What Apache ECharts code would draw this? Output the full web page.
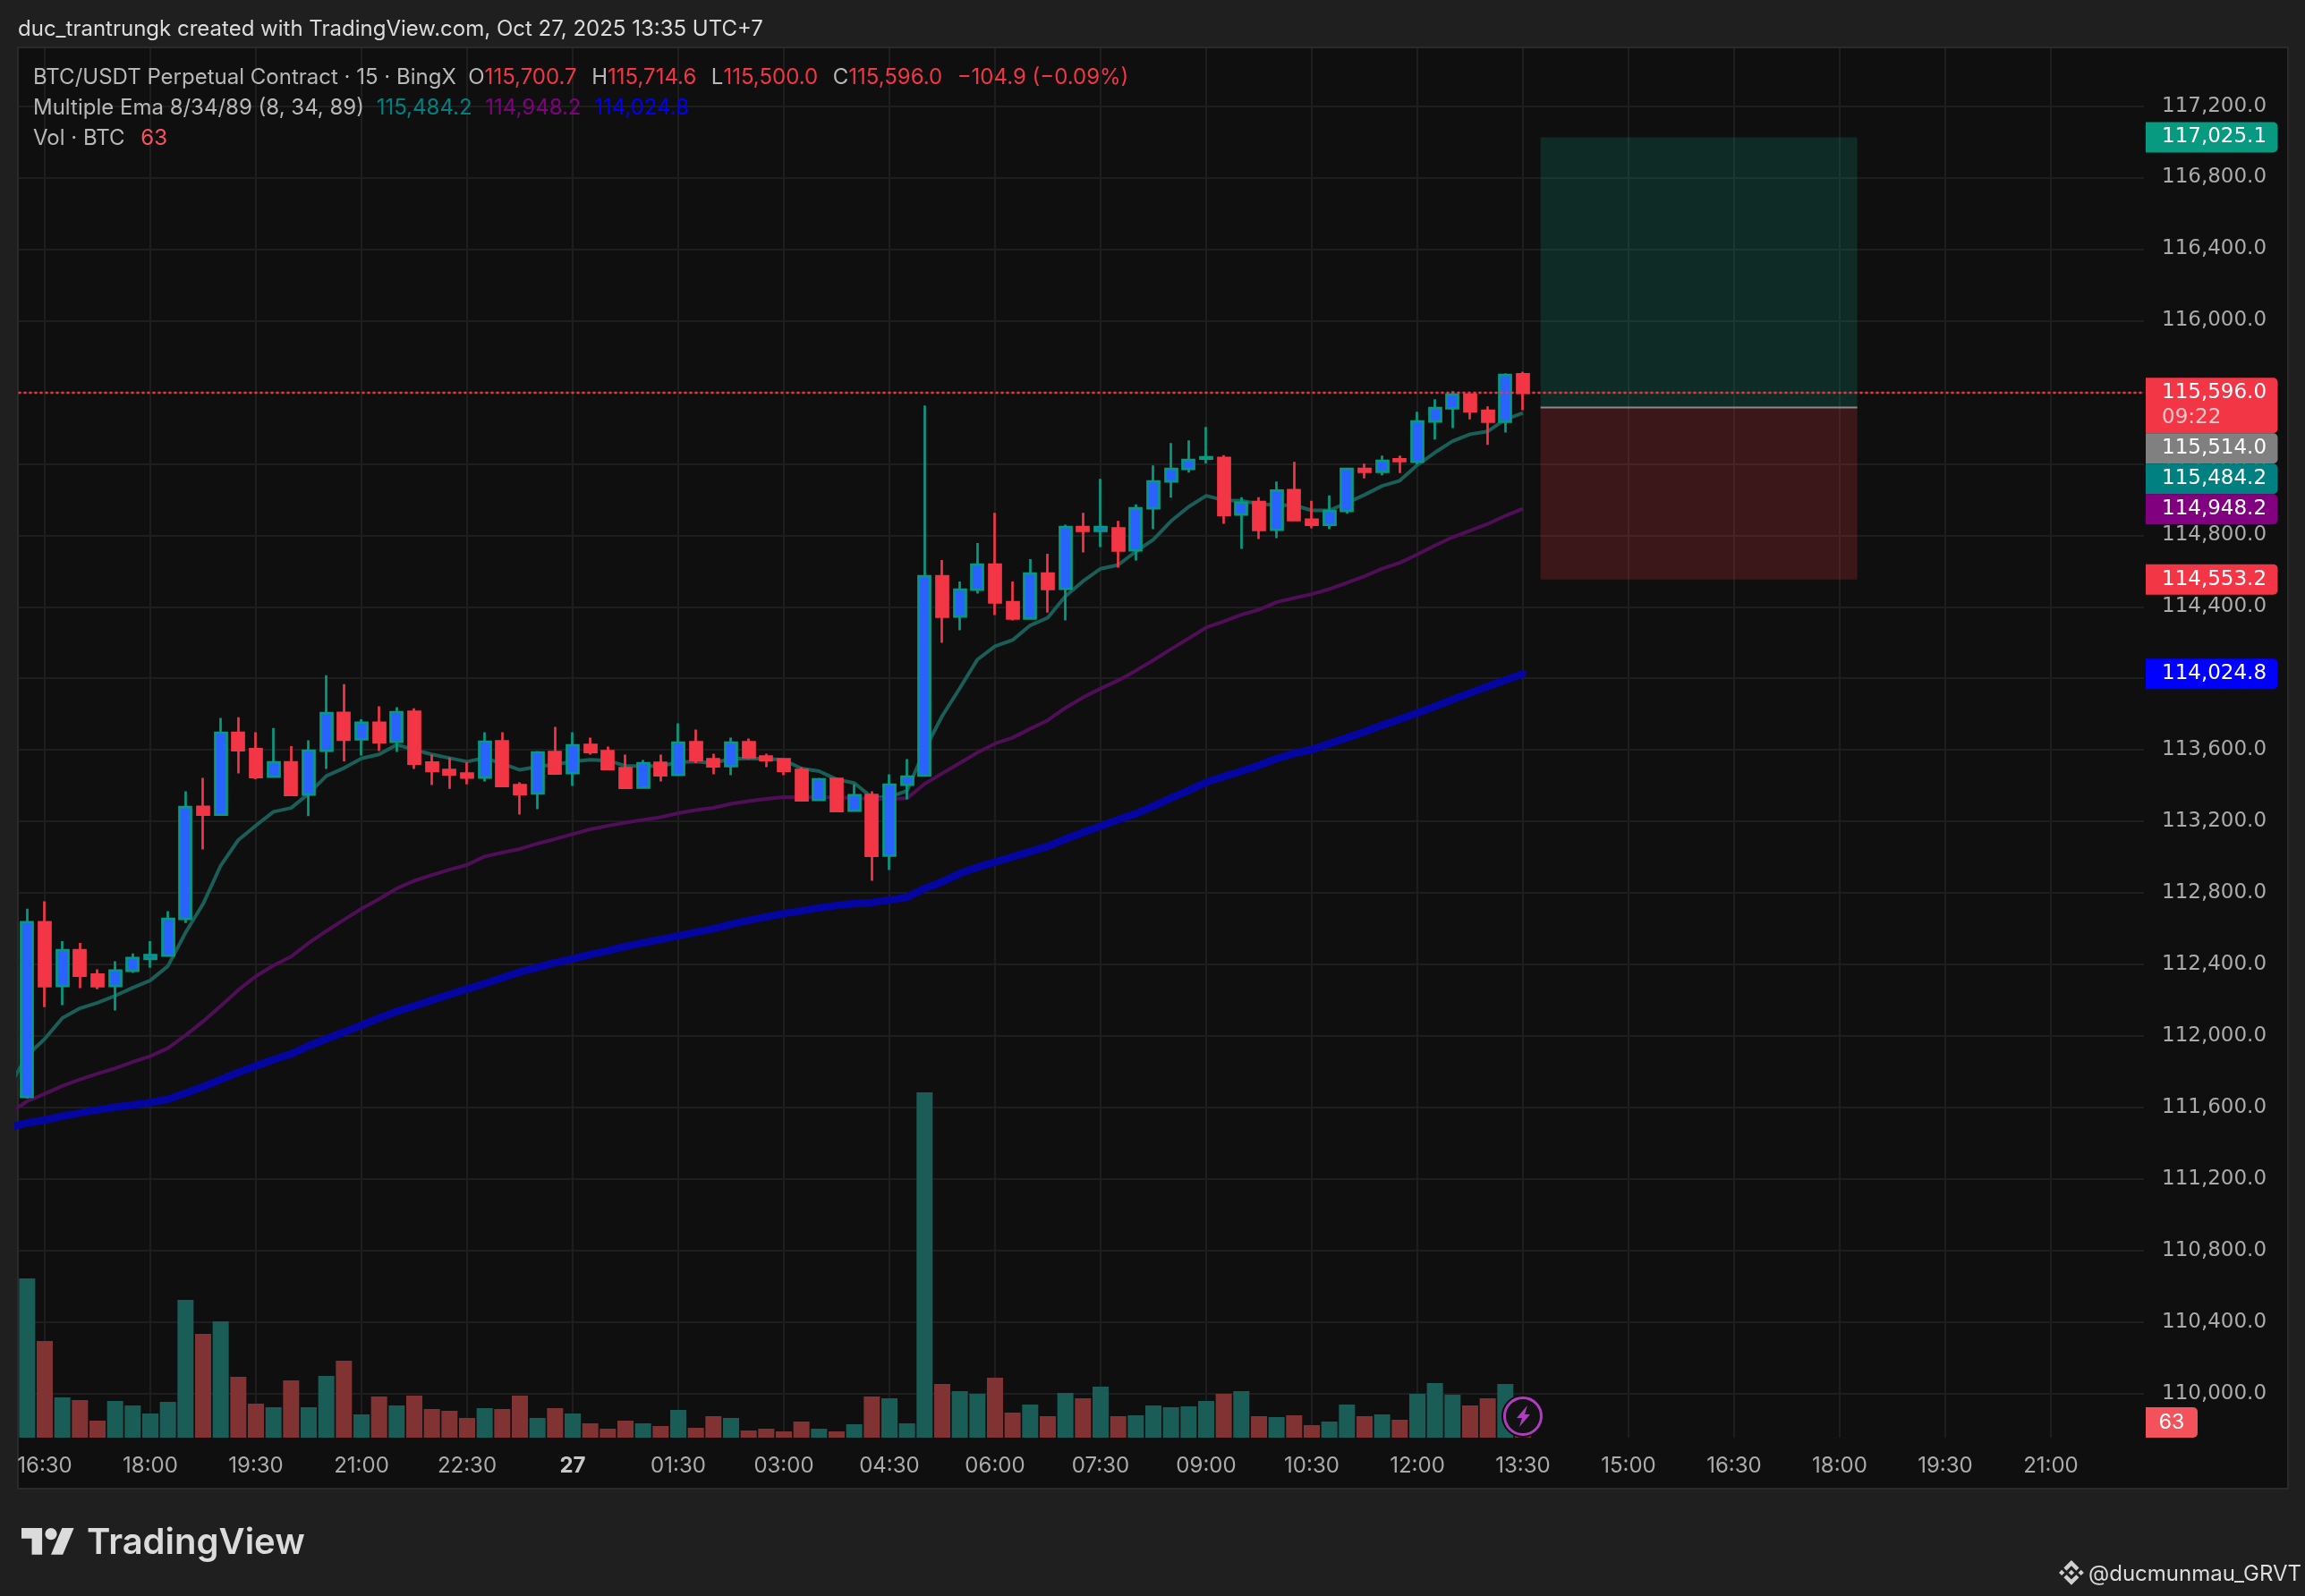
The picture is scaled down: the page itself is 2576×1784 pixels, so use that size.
<!DOCTYPE html>
<html><head><meta charset="utf-8">
<style>html,body{margin:0;padding:0;background:#1f1f1f}#c{width:2576px;height:1784px}</style>
<script src="https://cdn.jsdelivr.net/npm/echarts@6/dist/echarts.min.js"></script>
</head><body><div id="c"></div>
<script>
// ---------- data ----------
const opens=[111659,112636,112280,112480,112343,112280,112364,112432,112450,112655,113282,113238,113696,113604,113450,113530,113350,113595,113807,113659,113752,113645,113813,113529,113488,113468,113445,113648,113403,113356,113588,113470,113628,113593,113498,113389,113528,113460,113643,113548,113509,113643,113563,113548,113488,113320,113438,113260,113348,113009,113405,113456,114571,114346,114496,114636,114426,114334,114586,114501,114846,114824,114838,114716,114951,115101,115171,115229,115233,114916,114986,114831,115053,114888,114859,114936,115171,115155,115225,115211,115436,115510,115586,115496,115435,115700.7];
const closes=[112636,112278,112480,112337,112278,112366,112436,112453,112655,113280,113238,113696,113598,113448,113530,113348,113596,113805,113657,113752,113643,113811,113523,113482,113463,113445,113646,113398,113353,113586,113468,113626,113588,113493,113388,113526,113458,113641,113543,113508,113641,113558,113543,113483,113318,113436,113258,113346,113008,113406,113451,114571,114344,114496,114636,114424,114334,114586,114499,114846,114824,114846,114714,114951,115101,115171,115221,115236,114914,114983,114829,115050,114885,114859,114936,115171,115155,115216,115215,115436,115511,115586,115493,115435,115696,115596];
const lows=[111650,112162,112173,112268,112262,112143,112353,112382,112445,112632,113043,113232,113468,113436,113446,113343,113229,113493,113536,113568,113593,113588,113493,113404,113382,113407,113423,113398,113238,113268,113463,113398,113573,113490,113385,113387,113423,113458,113526,113463,113458,113548,113503,113458,113316,113318,113253,113258,112868,112928,113323,113450,114199,114269,114474,114354,114324,114329,114368,114324,114704,114734,114619,114659,114834,115010,115150,115200,114864,114724,114779,114784,114883,114839,114834,114920,115118,115135,115148,115196,115335,115400,115448,115305,115375,115500];
const highs=[112712,112753,112530,112521,112373,112418,112462,112530,112698,113368,113443,113779,113782,113698,113722,113621,113654,114018,113968,113771,113843,113838,113832,113573,113557,113530,113698,113698,113418,113593,113728,113698,113668,113618,113573,113543,113573,113748,113713,113578,113668,113663,113578,113548,113503,113443,113438,113409,113368,113463,113548,115526,114661,114541,114756,114926,114541,114666,114696,114859,114926,115116,114881,114973,115191,115316,115331,115406,115248,115013,115013,115101,115211,114993,115023,115171,115201,115246,115246,115491,115561,115606,115586,115521,115706,115714.6];
const volumes=[4806,2916,1215,1134,513,1107,972,729,1080,4158,3132,3510,1836,1026,918,1728,918,1863,2322,702,1242,972,1269,864,810,594,891,864,1269,594,891,729,432,270,513,432,351,837,297,648,594,216,270,189,486,270,189,405,1242,1188,432,10422,1620,1404,1323,1809,756,999,648,1350,1188,1539,648,675,972,918,945,1107,1323,1404,648,621,675,378,486,999,648,702,540,1323,1647,1296,972,1188,1620,63];
// EMA arrays begin one bar before the first candle (the line runs off the left edge)
const emaFast=[111721,111891,111984,112100,112155,112186,112225,112270,112311,112391,112578,112739,112953,113096,113177,113254,113275,113355,113454,113498,113552,113575,113629,113600,113575,113554,113534,113555,113523,113488,113506,113518,113535,113545,113540,113510,113510,113510,113531,113535,113526,113551,113551,113551,113543,113496,113481,113435,113415,113335,113335,113371,113600,113790,113945,114105,114179,114214,114296,114339,114459,114543,114613,114634,114709,114776,114879,114959,115021,114996,114993,114976,114968,114968,114939,114939,114981,115026,115076,115105,115193,115263,115326,115365,115381,115448,115484.2];
const emaMid=[111569,111635,111677,111721,111757,111789,111819,111855,111887,111932,112003,112082,112168,112257,112334,112394,112444,112520,112587,112650,112712,112766,112825,112868,112900,112930,112957,113004,113026,113046,113076,113101,113129,113156,113175,113193,113209,113223,113246,113263,113276,113298,113313,113326,113336,113334,113334,113334,113331,113326,113324,113329,113410,113468,113526,113585,113635,113668,113718,113765,113835,113893,113943,113988,114043,114101,114163,114223,114284,114318,114356,114384,114426,114449,114471,114499,114534,114571,114613,114646,114693,114743,114789,114826,114863,114909,114948.2];
const emaSlow=[111489,111514,111530,111552,111569,111587,111602,111614,111628,111646,111680,111716,111757,111796,111832,111868,111900,111944,111984,112021,112060,112100,112137,112168,112200,112232,112262,112293,112325,112358,112383,112410,112431,112456,112476,112501,112521,112540,112560,112580,112600,112625,112646,112666,112685,112700,112716,112730,112741,112746,112760,112776,112825,112862,112909,112943,112973,113001,113031,113060,113101,113138,113173,113210,113243,113285,113330,113373,113418,113451,113481,113513,113551,113580,113601,113635,113668,113701,113738,113771,113806,113843,113881,113918,113955,113990,114024.8];
const priceTicks=[110000,110400,110800,111200,111600,112000,112400,112800,113200,113600,114000,114400,114800,115200,115600,116000,116400,116800,117200];
const timeBars=[1,7,13,19,25,31,37,43,49,55,61,67,73,79,85,91,97,103,109,115];
const timeLabels=["16:30","18:00","19:30","21:00","22:30","27","01:30","03:00","04:30","06:00","07:30","09:00","10:30","12:00","13:30","15:00","16:30","18:00","19:30","21:00"];
const positionBars=[86,104];
const positionPrices=[117025.1,115514.0,114553.2];
const tagPrices=[117025.1,115596.0,115514.0,115484.2,114948.2,114553.2,114024.8];
const tagSubtext=["","09:22","","","","",""];
const tagColors=["#089981","#f23645","#808080","#008080","#800080","#f23645","#0000ff"];
const lastPrice=115596.0, lastVolume=63;

// ---------- style ----------
const FONT='Inter', PRICE_FONT='"DejaVu Sans"';
const C={page:'#1f1f1f',panel:'#0f0f0f',edge:'#2a2a2a',grid:'#1e1e1e',axis:'#ababab',text:'#b8b8b8',red:'#f23645',up:'#2962ff',upEdge:'#089981',volUp:'#1a5d57',volDown:'#813333'};
const fmt=v=>v.toLocaleString('en-US',{minimumFractionDigits:1,maximumFractionDigits:1});
const candles=opens.map((o,i)=>[i,o,closes[i],lows[i],highs[i]]);
const volData=volumes.map((v,i)=>[i,v]);
const line=a=>a.map((v,i)=>[i-1,v]);

function renderPosition(params,api){
  const x0=api.coord([positionBars[0],positionPrices[0]])[0];
  const x1=api.coord([positionBars[1],positionPrices[0]])[0];
  const y=positionPrices.map(p=>api.coord([positionBars[0],p])[1]);
  return {type:'group',children:[
    {type:'rect',shape:{x:x0,y:y[0],width:x1-x0,height:y[1]-y[0]},style:{fill:'rgba(8,153,129,0.2)'}},
    {type:'rect',shape:{x:x0,y:y[1],width:x1-x0,height:y[2]-y[1]},style:{fill:'rgba(242,54,69,0.2)'}},
    {type:'line',shape:{x1:x0,y1:y[1],x2:x1,y2:y[1]},style:{stroke:'#8a8a8a',lineWidth:2}}
  ]};
}
function tagTops(api){
  let floor=-Infinity;
  return tagPrices.map((p,i)=>{
    const cy=api.coord([0,p])[1];
    const top=Math.max(cy-17,floor);
    floor=top+(tagSubtext[i]?62:34);
    return top;
  });
}
function renderTag(params,api){
  const i=params.dataIndex;
  const cs=params.coordSys;
  const left=cs.x+cs.width+2, top=tagTops(api)[i];
  const h=tagSubtext[i]?62:34;
  const children=[
    {type:'rect',shape:{x:left,y:top,width:147.5,height:h,r:[0,5,5,0]},style:{fill:tagColors[i]}},
    {type:'text',style:{x:left+18,y:top+17,text:fmt(tagPrices[i]),fill:'#fff',font:'23px '+PRICE_FONT,textVerticalAlign:'middle',textAlign:'left'}}
  ];
  if(tagSubtext[i])children.push({type:'text',style:{x:left+18,y:top+45,text:tagSubtext[i],fill:'rgba(255,255,255,0.72)',font:'23px '+PRICE_FONT,textVerticalAlign:'middle',textAlign:'left'}});
  return {type:'group',children};
}
function renderVolTag(params,api){
  const cs=params.coordSys;
  const left=cs.x+cs.width+2;
  const cy=Math.min(api.coord([0,lastVolume])[1],cs.y+cs.height-17);
  return {type:'group',children:[
    {type:'rect',shape:{x:left,y:cy-17,width:58,height:34,r:[0,5,5,0]},style:{fill:'#f4525a'}},
    {type:'text',style:{x:left+29,y:cy,text:String(lastVolume),fill:'#fff',font:'23px '+FONT,textAlign:'center',textVerticalAlign:'middle'}}
  ]};
}
function renderBolt(params,api){
  const cs=params.coordSys;
  const x=api.coord([volData.length-1,0])[0], y=cs.y+cs.height-24;
  return {type:'group',x,y,children:[
    {type:'circle',shape:{cx:0,cy:0,r:23},style:{fill:'#0f0f0f',stroke:'#0f0f0f',lineWidth:2}},
    {type:'circle',shape:{cx:0,cy:0,r:20.5},style:{fill:'#121212',stroke:'#b03cc0',lineWidth:3}},
    {type:'polygon',shape:{points:[[5,-12],[-7,2],[-1,2],[-4,12],[8,-2],[2,-2]]},style:{fill:'#b03cc0'}}
  ]};
}

const FS='24px '+FONT;
const legend1={r:{fill:C.red,font:FS},a:{fill:C.text,font:FS},k:{fill:C.text,font:FS,padding:[0,0,0,3]},d:{fill:C.red,font:FS,padding:[0,0,0,3]}};
const scalePts=(pts,s,ox,oy)=>pts.map(p=>[ox+p[0]*s,oy+p[1]*s]);
const iconPolys=[
 [[38.73,53.2],[63.32,28.62],[87.92,53.22],[102.22,38.91],[63.32,0],[24.43,38.88]],
 [[0,63.31],[14.3,49],[28.61,63.31],[14.3,77.61]],
 [[38.73,73.41],[63.32,98],[87.92,73.4],[102.23,87.69],[63.33,126.6],[24.45,87.72]],
 [[98,63.31],[112.3,49.01],[126.61,63.31],[112.3,77.62]],
 [[77.83,63.3],[63.32,48.78],[48.81,63.28],[63.32,77.78]]
].map(p=>({type:'polygon',z:100,shape:{points:scalePts(p,0.22,2301,1744)},style:{fill:'#d0d0d0'}}));
const tvPolys=[
 [[14,22],[7,22],[7,11],[0,11],[0,4],[14,4]],
 [[28,22],[20,22],[27.5,4],[35.5,4]]
].map(p=>({type:'polygon',z:100,shape:{points:scalePts(p,1.65,24,1701.5)},style:{fill:'#dbdbdb'}}));

const chart=echarts.init(document.getElementById('c'),null,{renderer:'canvas',width:2576,height:1784});
chart.setOption({
  backgroundColor:C.page,
  animation:false,
  textStyle:{fontFamily:FONT},
  tooltip:{show:false},
  graphic:[
    {type:'rect',z:-100,shape:{x:20,y:53,width:2537,height:1611},style:{fill:C.panel,stroke:C.edge,lineWidth:2}},
    {type:'text',z:100,x:20,y:33,style:{text:'duc_trantrungk created with TradingView.com, Oct 27, 2025 13:35 UTC+7',fill:'#dcdcdc',font:FS,textVerticalAlign:'middle'}},
    {type:'text',z:100,x:37,y:87,style:{text:'{a|BTC/USDT Perpetual Contract · 15 · BingX  O}{r|115,700.7}{k|  H}{r|115,714.6}{k|  L}{r|115,500.0}{k|  C}{r|115,596.0}{d|  −104.9 (−0.09%)}',textVerticalAlign:'middle',rich:legend1}},
    {type:'text',z:100,x:37,y:121,style:{text:'{a|Multiple Ema 8/34/89 (8, 34, 89)}  {t|115,484.2}  {p|114,948.2}  {b|114,024.8}',textVerticalAlign:'middle',rich:{a:legend1.a,t:{fill:'#008080',font:FS,padding:[0,0,0,7]},p:{fill:'#800080',font:FS,padding:[0,0,0,8]},b:{fill:'#0000ff',font:FS,padding:[0,0,0,8]}}}},
    {type:'text',z:100,x:37,y:155,style:{text:'{a|Vol · BTC}  {r|63}',textVerticalAlign:'middle',rich:{a:legend1.a,r:{fill:'#f7525f',font:FS,padding:[0,0,0,11]}}}},
    ...tvPolys,
    {type:'circle',z:100,shape:{cx:24+20*1.65,cy:1701.5+8*1.65,r:4*1.65},style:{fill:'#dbdbdb'}},
    {type:'text',z:100,x:97,y:1725,style:{text:'TradingView',fill:'#dbdbdb',font:'600 40px '+FONT,textVerticalAlign:'middle'}},
    ...iconPolys,
    {type:'text',z:100,x:2334,y:1760,style:{text:'@ducmunmau_GRVT',fill:'#dcdcdc',font:FS,textVerticalAlign:'middle'}}
  ],
  grid:{left:20.5,top:54,width:2375.5,height:1553,containLabel:false,show:false},
  xAxis:{type:'value',min:-0.5,max:120.29,
    axisLine:{show:false},
    axisTick:{show:false,customValues:timeBars},
    splitLine:{show:true,lineStyle:{color:C.grid,width:2}},
    axisLabel:{customValues:timeBars,margin:20,fontFamily:FONT,fontSize:24,color:C.axis,
      formatter:v=>{const s=timeLabels[timeBars.indexOf(v)];return s==='27'?'{b|27}':s;},
      rich:{b:{fontFamily:FONT,fontSize:24,fontWeight:700,color:'#c8c8c8'}}}},
  yAxis:[
    {type:'value',position:'right',min:109754,max:117523,
      axisLine:{show:false},
      axisTick:{show:false,customValues:priceTicks},
      splitLine:{show:true,lineStyle:{color:C.grid,width:2}},
      axisLabel:{customValues:priceTicks,margin:20,align:'left',fontFamily:PRICE_FONT,fontSize:23,color:C.axis,formatter:fmt}},
    {type:'value',show:false,min:0,max:41930,splitLine:{show:false}}
  ],
  series:[
    {type:'custom',name:'Position',z:1,renderItem:renderPosition,data:[[positionBars[0],positionPrices[0]]],encode:{x:0,y:1},silent:true},
    {type:'bar',name:'Vol',yAxisIndex:1,z:2,barWidth:18,data:volData,silent:true,
      itemStyle:{color:p=>closes[p.dataIndex]>opens[p.dataIndex]?C.volUp:C.volDown}},
    {type:'line',name:'EMA 8',data:line(emaFast),showSymbol:false,z:3,lineStyle:{color:'#1a5e58',width:4},silent:true},
    {type:'line',name:'EMA 34',data:line(emaMid),showSymbol:false,z:3,lineStyle:{color:'#500e58',width:4},silent:true},
    {type:'line',name:'EMA 89',data:line(emaSlow),showSymbol:false,z:3,lineStyle:{color:'#0505a0',width:8.5,cap:'round'},silent:true},
    {type:'candlestick',name:'BTC/USDT',z:4,barWidth:13.4,data:candles,silent:true,
      itemStyle:{color:C.up,color0:C.red,borderColor:C.upEdge,borderColor0:C.red,borderWidth:2.7},
      markLine:{silent:true,symbol:'none',label:{show:false},data:[{yAxis:lastPrice}],lineStyle:{color:C.red,type:[3,3],width:2.4},z:5}},
    {type:'custom',name:'Tags',z:10,renderItem:renderTag,data:tagPrices.map(p=>[0,p]),encode:{x:0,y:1},silent:true},
    {type:'custom',name:'VolTag',z:10,yAxisIndex:1,renderItem:renderVolTag,data:[[0,lastVolume]],encode:{x:0,y:1},silent:true},
    {type:'custom',name:'Bolt',z:11,yAxisIndex:1,renderItem:renderBolt,data:[[volData.length-1,0]],encode:{x:0,y:1},silent:true}
  ]
});
</script></body></html>
